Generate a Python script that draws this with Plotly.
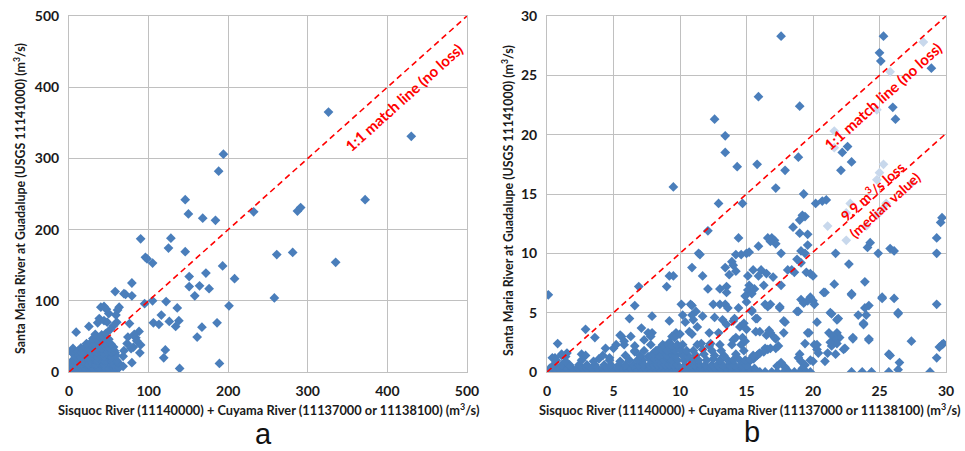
import plotly.graph_objects as go

# ---------------- Panel a data (m3/s) ----------------
a_outer = [(326,365),(430,331),(194,306),(188,282),(146,242),(372,242),(150,222),(232,225),(287,226),(291,231),
           (168,216),(184,213),(90,187),(128,188),(125,174),(146,169),(281,168),(261,165),(96,161),(98,159),
           (105,153),(335,154),(193,149),(151,134),(172,139),(208,131),(79,125),(164,121),(151,120),(176,117),
           (58,113),(69,110),(71,109),(79,107),(158,107),(258,104),(105,100),(122,99),(95,96),(201,93),
           (136,90),(40,91),(44,92),(47,88),(50,82),(116,80),(63,91),(61,87),(138,72),(126,71),
           (106,69),(113,67),(186,69),(76,68),(134,64),(167,63),(36,69),(9,56),(25,64),(88,57),
           (161,49),(84,48),(74,49),(121,31),(119,20),(189,12),(139,5),(89,27),(90,38),(81,35),
           (79,13),(73,40),(69,30),(58,27),(68,22),(68,8),(61,12),(5,33),(59,80),(60,70),
           (38,75),(44,72),(48,70),(56,65),(52,60),(82,53),(85,44),(78,33)]
a_cluster = [(0,2),(3,1),(6,3),(9,1),(12,2),(15,4),(18,1),(21,3),(24,2),(27,1),(30,3),(33,2),(36,1),(40,3),(43,2),(46,1),(50,3),(54,2),(57,1),
             (1,7),(4,6),(8,8),(11,6),(14,7),(17,9),(20,6),(23,8),(26,7),(29,6),(32,9),(35,7),(38,6),(42,8),(45,7),(49,6),(53,9),(58,7),(63,6),
             (2,12),(6,11),(10,13),(13,12),(16,11),(19,14),(22,12),(25,11),(28,13),(31,12),(34,11),(37,14),(41,12),(44,11),(48,13),(52,12),(56,11),(62,13),
             (5,17),(9,16),(12,18),(15,17),(18,16),(21,19),(24,17),(27,16),(30,18),(33,17),(36,16),(39,19),(43,17),(47,16),(51,18),(55,17),(60,16),
             (8,22),(12,23),(15,21),(18,24),(21,22),(24,21),(27,23),(30,22),(33,24),(36,21),(40,23),(44,22),(49,24),(54,21),(59,23),
             (3,28),(11,29),(16,27),(20,28),(24,30),(28,27),(32,29),(35,28),(39,30),(43,27),(48,29),(53,28),(57,30),
             (15,34),(20,35),(25,33),(29,36),(33,34),(37,35),(41,33),(46,36),(51,34),(56,35),
             (22,40),(27,41),(32,39),(37,42),(42,40),(47,41),(53,39),
             (30,47),(35,46),(40,48),(45,47),(50,46),
             (33,53),(41,52),(46,54)]

# ---------------- Panel b data (m3/s) ----------------
b_upper = [(17.6,28.3),(25.3,28.3),(25.0,26.9),(25.1,26.2),(28.9,25.6),(15.9,23.2),(19.0,22.4),(12.6,21.3),(26.0,22.3),(26.2,21.3),
           (13.4,19.9),(13.4,18.5),(14.3,17.3),(22.6,19.0),(22.2,18.5),(22.9,17.7),(22.1,17.0),(18.9,18.1),(17.9,17.0),(15.8,17.5),
           (9.5,15.6),(17.2,15.5),(19.3,15.0),(12.9,14.2),(14.7,14.2),(20.2,14.2),(20.7,14.4),(21.0,14.5),(12.1,11.9),(14.4,11.3),
           (16.6,11.3),(16.9,11.3),(17.1,11.1),(17.2,10.8),(16.8,11.0),(15.9,10.6),(18.5,12.2),(19.0,12.8),(19.2,13.2),(19.4,13.1),
           (19.0,11.7),(19.6,11.6),(29.7,13.0),(29.6,12.6),(29.3,11.3),(29.3,10.0),(11.4,10.0),(11.5,9.9),(14.2,9.9),(14.6,9.9),
           (15.0,10.0),(15.2,10.1),(17.6,10.0),(19.1,10.2),(19.4,10.0),(19.6,10.7),(21.7,10.0),(24.1,10.5),(24.3,10.9),(24.9,10.0),
           (25.8,10.4),(26.1,10.2),(22.7,9.1),(19.1,9.2),(18.8,9.5),(18.1,8.6),(18.4,8.6),(18.6,8.4),(19.5,8.4),(19.8,8.3),
           (20.0,8.1),(9.2,8.1),(9.5,8.1),(9.0,7.2),(6.9,7.2),(10.9,8.8),(11.7,8.1),(13.4,8.8),(13.7,8.2),(13.9,9.3),
           (14.0,9.0),(14.2,8.5),(15.1,8.1),(15.5,8.6),(16.1,8.6),(15.9,8.1),(16.5,8.3),(17.0,8.0),(12.1,7.0),(13.0,7.0),
           (13.5,7.2),(15.2,7.3),(15.1,6.9),(16.3,7.3),(17.6,7.3),(21.6,7.4),(23.9,7.6),(20.8,6.7),(22.9,6.6),(0.1,6.5),
           (13.5,6.7),(19.8,6.3),(25.2,6.2),(26.1,6.2),(19.1,6.1),(14.9,6.4),(15.0,5.9),(15.4,6.6),(15.6,7.0)]
b_mid = [(10.1,5.7),(10.8,5.7),(6.6,5.6),(12.5,5.7),(13.0,5.7),(13.4,5.7),(13.6,5.4),(16.4,5.7),(16.8,5.7),(17.5,5.4),
         (20.0,6.0),(20.1,5.7),(29.3,5.7),(24.2,5.6),(23.9,5.4),(18.9,5.1),(21.3,5.0),(26.4,5.0),(11.2,5.1),(14.4,5.4),
         (15.4,5.1),(9.2,4.3),(6.2,4.5),(7.9,4.7),(11.7,4.7),(11.0,4.4),(13.2,4.4),(14.1,4.5),(14.0,4.3),(15.8,4.5),
         (17.8,4.3),(20.3,4.2),(21.9,4.5),(23.4,4.8),(24.0,4.8),(23.8,4.0),(2.9,3.6),(3.6,2.9),(6.3,3.0),(5.5,3.1),
         (5.6,3.0),(7.1,3.7),(7.6,3.3),(7.9,3.3),(9.7,3.3),(10.7,3.4),(11.6,2.4),(12.2,3.3),(12.9,3.3),(14.0,2.7),
         (14.2,2.9),(14.7,2.9),(16.5,3.1),(16.8,3.3),(17.1,2.9),(17.8,3.3),(19.6,3.3),(21.8,3.3),(22.0,2.9),(23.0,2.9),
         (24.2,2.7),(22.4,2.0),(21.8,2.4),(21.4,2.2),(21.1,1.6),(20.1,2.3),(20.3,1.9),(27.4,2.6),(29.7,2.3),(29.8,2.4),
         (29.5,2.1),(25.7,1.5),(21.7,1.5),(29.3,1.2),(19.0,1.5),(19.8,1.0),(20.9,0.9),(26.5,0.8),(0.6,1.2),(0.8,2.4),
         (1.1,1.5),(1.5,1.6),(4.4,2.0),(4.7,1.2),(16.4,2.0),(16.6,1.9),(16.0,1.6),(15.6,1.2),(15.4,1.2),(15.8,1.4),
         (17.2,2.0),(17.4,2.2),(18.9,1.2),(19.1,0.9),(19.4,0.6),(17.6,0.8),(17.3,0.5),(17.9,0.4),(19.2,0.3),(10.2,4.8),
         (10.4,4.2),(11.3,3.8),(10.9,3.2),(12.6,4.6),(12.3,2.4),(13.0,2.3),(13.5,4.0),(14.5,3.8),(14.8,4.1),(14.6,2.3),
         (14.9,2.6),(15.0,3.6),(15.7,3.4),(16.0,3.4),(16.7,3.5),(19.7,3.3),(21.2,3.3),(21.5,3.0),(21.6,2.6),(21.3,2.5),
         (23.0,2.8),(24.2,2.8),(19.4,2.4),(20.3,2.3),(15.2,0.9),(15.5,1.1),(15.9,1.5),(16.3,1.7),(16.8,2.0),(20.4,1.6),
         (22.3,1.9),(25.8,1.4),(20.0,0.9),(22.9,0.0),(23.7,0.0),(24.4,0.0),(25.7,0.0),(26.4,0.2),(28.8,0.0),(5.0,2.0),
         (5.2,2.3),(6.6,2.2),(6.6,1.7),(7.3,1.8),(5.8,2.6),(0.4,1.2),(1.4,1.3),(3.9,1.1),(2.6,1.5),(7.3,2.7),
         (7.8,3.0),(9.4,3.0),(15.7,4.5),(17.9,4.2),(21.8,4.4),(23.8,4.1),(17.2,2.8),(22.9,6.5),(25.2,6.3),(20.9,6.7),
         (19.3,5.8),(19.6,6.0),(16.6,5.5),(17.5,5.5),(15.4,5.2),(18.8,5.1),(21.4,4.9),(26.4,4.9),(10.9,4.8),(10.9,5.6),
         (7.2,1.0),(7.6,1.3),(8.0,1.6),(8.4,1.9),(8.8,2.2),(9.2,2.5),(9.6,2.9),(10.0,3.2)]
b_band = [(0.1,0.0),(0.4,0.0),(0.7,0.0),(1.0,0.0),(1.3,0.0),(1.6,0.0),(1.9,0.0),(2.2,0.0),(2.5,0.0),(2.8,0.0),
          (3.1,0.0),(3.4,0.0),(3.7,0.0),(4.0,0.0),(4.3,0.0),(4.6,0.0),(4.9,0.0),(5.2,0.0),(5.5,0.0),(5.8,0.0),
          (6.1,0.0),(6.4,0.0),(6.7,0.0),(7.0,0.0),(7.3,0.0),(7.6,0.0),(7.9,0.0),(8.2,0.0),(8.5,0.0),(8.8,0.0),
          (9.1,0.0),(9.4,0.0),(9.7,0.0),(10.0,0.0),(10.3,0.0),(10.6,0.0),(10.9,0.0),(11.2,0.0),(11.5,0.0),(11.8,0.0),
          (12.1,0.0),(12.4,0.0),(12.7,0.0),(13.0,0.0),(13.3,0.0),(13.6,0.0),(13.9,0.0),(14.2,0.0),(14.5,0.0),(14.8,0.0),
          (15.1,0.0),(15.4,0.0),(15.7,0.0),(16.0,0.0),(16.4,0.0),(16.9,0.0),(17.3,0.0),(17.8,0.0),(18.2,0.0),(18.6,0.0),
          (19.0,0.0),(19.5,0.0),(19.8,0.0),
          (0.2,0.3),(0.6,0.3),(0.9,0.3),(1.2,0.3),(1.5,0.3),(1.9,0.3),(2.3,0.3),(2.7,0.3),(3.0,0.3),(3.4,0.3),
          (3.8,0.3),(4.2,0.3),(4.5,0.3),(4.9,0.3),(5.3,0.3),(5.6,0.3),(6.0,0.3),(6.3,0.3),(6.7,0.3),(7.1,0.3),
          (7.4,0.3),(7.8,0.3),(8.1,0.3),(8.4,0.3),(8.7,0.3),(9.0,0.3),(9.3,0.3),(9.6,0.3),(10.2,0.3),(10.5,0.3),
          (10.9,0.3),(11.3,0.3),(11.6,0.3),(12.0,0.3),(12.3,0.3),(12.6,0.3),(13.1,0.3),(13.5,0.3),(13.8,0.3),(14.3,0.3),
          (14.7,0.3),(15.2,0.3),(15.6,0.3),
          (0.5,0.6),(1.1,0.6),(1.7,0.6),(2.4,0.6),(3.0,0.6),(3.6,0.6),(4.3,0.6),(4.8,0.6),(5.4,0.6),(5.9,0.6),
          (6.5,0.6),(6.9,0.6),(7.3,0.6),(7.7,0.6),(8.0,0.6),(8.3,0.6),(8.6,0.6),(8.9,0.6),(9.2,0.6),(9.5,0.6),
          (9.8,0.6),(10.4,0.6),(10.8,0.6),(11.1,0.6),(11.5,0.6),(11.9,0.6),(12.4,0.6),(12.8,0.6),(13.2,0.6),(13.7,0.6),
          (14.1,0.6),(14.6,0.6),(15.0,0.6),
          (0.7,1.0),(1.4,0.9),(2.6,1.0),(3.5,0.9),(4.7,1.0),(5.5,0.9),(6.2,1.0),(6.8,1.0),(7.8,1.0),(8.1,1.1),
          (8.5,1.0),(8.8,1.0),(9.1,1.1),(9.4,1.0),(9.8,1.0),(10.3,1.0),(10.7,1.1),(11.0,1.0),(11.4,1.0),(12.0,1.0),
          (12.5,1.1),(13.0,1.0),(13.6,1.0),(14.0,1.0),(14.4,1.1),(14.9,1.0),(15.3,1.0),
          (1.1,1.4),(2.9,1.4),(4.2,1.4),(5.9,1.4),(7.0,1.4),(8.0,1.5),(8.4,1.4),(8.7,1.5),(9.0,1.4),(9.4,1.5),
          (9.7,1.4),(10.1,1.5),(10.6,1.4),(11.2,1.4),(11.8,1.5),(12.6,1.4),(13.3,1.4),(14.2,1.5),(15.5,1.4),
          (6.6,1.8),(8.2,1.8),(8.6,1.9),(9.0,1.8),(9.3,1.9),(9.6,1.8),(10.0,1.9),(10.5,1.8),(11.0,1.8),(11.7,1.9),
          (12.4,1.8),(13.1,1.8),(14.8,1.8),
          (5.8,2.3),(7.8,2.3),(8.7,2.3),(9.1,2.3),(9.4,2.2),(9.8,2.3),(10.2,2.3),(11.3,2.3),(12.2,2.2),(13.9,2.3)]
b_pale = [(28.3,27.8),(25.8,25.3),(24.8,22.1),(21.6,20.3),(21.6,18.9),(25.3,17.5),(25.0,16.8),(24.8,16.2),(27.4,15.9),
          (22.8,14.2),(22.5,13.4),(25.5,14.2),(25.2,13.7),(24.8,13.2),(21.1,12.3),(24.0,12.3),(22.5,11.1)]

a_ticks = [0, 100, 200, 300, 400, 500]
b_ticks = [0, 5, 10, 15, 20, 25, 30]
b_loss = 9.9

BLUE = "#4A7EBB"
PALE = "#C8D8EC"
GRID = "#C0C0C0"
FONT = "Lato"

a_all = a_outer + a_cluster
b_all = b_upper + b_mid + b_band

fig = go.Figure()
mk = dict(symbol="diamond", size=7.5, color=BLUE, line=dict(width=0))
dash = dict(color="#FF0000", width=1.6, dash="6px,4px")
fig.add_trace(go.Scatter(x=[p[0] for p in a_all], y=[p[1] for p in a_all], mode="markers",
                         marker=mk, xaxis="x", yaxis="y", showlegend=False))
fig.add_trace(go.Scatter(x=[0, 500], y=[0, 500], mode="lines", line=dash,
                         xaxis="x", yaxis="y", showlegend=False))
fig.add_trace(go.Scatter(x=[p[0] for p in b_pale], y=[p[1] for p in b_pale], mode="markers",
                         marker=dict(symbol="diamond", size=7.5, color=PALE, line=dict(width=0)),
                         xaxis="x2", yaxis="y2", showlegend=False))
fig.add_trace(go.Scatter(x=[p[0] for p in b_all], y=[p[1] for p in b_all], mode="markers",
                         marker=mk, xaxis="x2", yaxis="y2", showlegend=False))
fig.add_trace(go.Scatter(x=[0, 30], y=[0, 30], mode="lines", line=dash,
                         xaxis="x2", yaxis="y2", showlegend=False))
fig.add_trace(go.Scatter(x=[b_loss, 30], y=[0, 30 - b_loss], mode="lines", line=dash,
                         xaxis="x2", yaxis="y2", showlegend=False))

W, H = 965, 451
def px(x):
    return x / W
def py(y):
    return 1 - y / H

ydom = [py(372), py(16)]
tickfont = dict(family=FONT, size=14, color="#1a1a1a")
axcommon = dict(showgrid=True, gridcolor=GRID, gridwidth=1, showline=True, linecolor=GRID, mirror=True,
                zeroline=False, ticks="", tickfont=tickfont, ticklabelstandoff=6, automargin=False,
                ticklabeloverflow="allow")
fig.update_layout(
    width=W, height=H, margin=dict(l=0, r=0, t=0, b=0, autoexpand=False),
    paper_bgcolor="white", plot_bgcolor="white",
    xaxis=dict(domain=[px(69), px(467)], range=[0, 500], tickvals=a_ticks,
               ticktext=[f"<b>{v}</b>" for v in a_ticks], anchor="y", **axcommon),
    yaxis=dict(domain=ydom, range=[0, 500], tickvals=a_ticks,
               ticktext=[f"<b>{v}</b>" for v in a_ticks], anchor="x", **axcommon),
    xaxis2=dict(domain=[px(547), px(946)], range=[0, 30], tickvals=b_ticks,
                ticktext=[f"<b>{v}</b>" for v in b_ticks], anchor="y2", **axcommon),
    yaxis2=dict(domain=ydom, range=[0, 30], tickvals=b_ticks,
                ticktext=[f"<b>{v}</b>" for v in b_ticks], anchor="x2", **axcommon),
)

xfont = dict(family=FONT, size=12.8, color="#1a1a1a")
yfont = dict(family=FONT, size=12.4, color="#1a1a1a")
xtitle = "<b>Sisquoc River (11140000) + Cuyama River (11137000 or 11138100) (m<sup>3</sup>/s)</b>"
ytitle = "<b>Santa Maria River at Guadalupe (USGS 11141000) (m<sup>3</sup>/s)</b>"
red = dict(family=FONT, size=15, color="#FF0000")
base = dict(showarrow=False, xanchor="center", yanchor="middle")
anns = [
    dict(text=xtitle, x=px(269), y=py(409), xref="paper", yref="paper", font=xfont, **base),
    dict(text=xtitle, x=px(750), y=py(409), xref="paper", yref="paper", font=xfont, **base),
    dict(text=ytitle, x=px(20), y=py(199), xref="paper", yref="paper", font=yfont, textangle=-90, **base),
    dict(text=ytitle, x=px(507), y=py(200), xref="paper", yref="paper", font=yfont, textangle=-90, **base),
    dict(text="a", x=px(263), y=0, xref="paper", yref="paper", showarrow=False, xanchor="center", yanchor="bottom",
         borderpad=0, font=dict(family="Liberation Sans", size=29, color="#111")),
    dict(text="b", x=px(752), y=py(432), xref="paper", yref="paper",
         font=dict(family="Liberation Sans", size=29, color="#111"), **base),
    dict(text="<b>1:1 match line (no loss)</b>", x=421, y=386, xref="x", yref="y", font=red, textangle=-42, **base),
    dict(text="<b>1:1 match line (no loss)</b>", x=25.26, y=23.25, xref="x2", yref="y2", font=red, textangle=-42, **base),
    dict(text="<b>9.9 m<sup>3</sup>/s loss</b><br><b>(median value)</b>", x=24.87, y=14.74, xref="x2", yref="y2",
         font=dict(family=FONT, size=14, color="#FF0000"), textangle=-42, **base),
]
fig.update_layout(annotations=anns)
fig.write_html("out.html", config={"displayModeBar": False},
               post_script="document.body.style.margin='0';document.documentElement.style.overflow='hidden';document.body.style.overflow='hidden';")
